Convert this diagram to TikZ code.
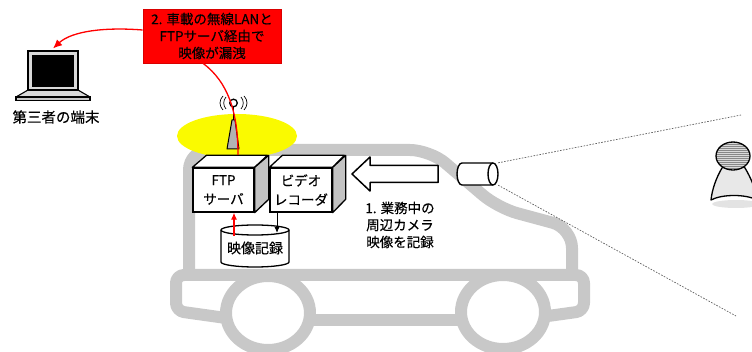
\documentclass[tikz,border=0pt]{standalone}
\usepackage{fontspec}
\setmainfont{Noto Sans CJK JP}[FakeBold=0.35]
\usetikzlibrary{arrows.meta,calc}
\definecolor{carline}{RGB}{200,200,200}
\definecolor{leakred}{RGB}{255,0,0}
\definecolor{sidegray}{RGB}{195,195,195}
\definecolor{halo}{RGB}{250,250,0}
\definecolor{headgray}{RGB}{135,135,135}
\definecolor{bodygray}{RGB}{232,232,232}

\begin{document}
\begin{tikzpicture}[x=1pt,y=-1pt,
  txt/.style={font=\fontsize{13.5}{17}\selectfont, align=center, inner sep=0pt},
  cubebox/.style={draw=black, line width=1.3pt, fill=white, minimum height=44pt,
    inner sep=0pt, font=\fontsize{13.5}{19}\selectfont, align=center},
  cubeface/.style={draw=black, line width=1.3pt, line join=round},
  carbody/.style={draw=carline, line width=12pt, line join=round, line cap=round},
  leakline/.style={draw=leakred, line width=1.3pt},
  redup/.style={draw=leakred, line width=1.2pt, -{Latex[length=7pt,width=6pt]}},
  blackdown/.style={draw=black, line width=0.9pt, -{Latex[length=6pt,width=5pt]}},
  sight/.style={draw=gray!75!black, line width=0.7pt, dash pattern=on 1.6pt off 1.4pt},
  outline/.style={draw=black, line width=1.4pt, line join=round}
]
\useasboundingbox (0,0) rectangle (752,352);
\clip (0,0) rectangle (752,352);

% ---------- vehicle silhouette ----------
\draw[carbody, rounded corners=20pt] (189,275) -- (189,150) -- (430,150)
  -- (498,208) -- (572,228) -- (572,275);
\draw[carbody, rounded corners=8pt] (226,318) -- (176,311) -- (176,275)
  -- (584,275) -- (584,311) -- (548,316);
\draw[carbody] (300,320) -- (470,320);
\draw[carbody, fill=white] (268,313) ellipse [x radius=42, y radius=37];
\draw[carbody, fill=white] (503,312) ellipse [x radius=42, y radius=37];

% ---------- wireless halo and antenna ----------
\fill[halo] (237,136) ellipse [x radius=60, y radius=22];
\draw[line width=1pt, fill=gray!60, line join=round]
  (227,149) -- (232,120) -- (235,120) -- (239,149) -- cycle;
\draw[line width=1.3pt] (233.5,120) -- (233.5,107);
\draw[line width=1.3pt, fill=white] (233.5,103) circle [radius=3.8];
\draw[line width=0.7pt] (226,97) .. controls (223,100) and (223,106) .. (226,109);
\draw[line width=0.7pt] (223,96) .. controls (219,100) and (219,106) .. (223,110);
\draw[line width=0.7pt] (241,97) .. controls (244,100) and (244,106) .. (241,109);
\draw[line width=0.7pt] (244,96) .. controls (248,100) and (248,106) .. (244,110);
\coordinate (antbase) at (238,155);

% ---------- FTP server and video recorder ----------
\node[cubebox, minimum width=61pt] (ftp) at (223.5,190) {FTP\\サーバ};
\draw[cubeface, fill=white] (ftp.north west) -- ++(14,-12) -- ++(61,0)
  -- (ftp.north east) -- cycle;
\draw[cubeface, fill=sidegray] (ftp.north east) -- ++(14,-12) -- ++(0,44)
  -- (ftp.south east) -- cycle;

\node[cubebox, minimum width=62pt] (rec) at (301,190) {ビデオ\\レコーダ};
\draw[cubeface, fill=white] (rec.north west) -- ++(13,-12) -- ++(62,0)
  -- (rec.north east) -- cycle;
\draw[cubeface, fill=sidegray] (rec.north east) -- ++(13,-12) -- ++(0,44)
  -- (rec.south east) -- cycle;

% ---------- recording storage ----------
\draw[outline, line width=1.3pt, fill=white] (221,230) -- (221,262)
  arc[start angle=180, end angle=0, x radius=34, y radius=5] -- (289,230)
  arc[start angle=0, end angle=-180, x radius=34, y radius=5] -- cycle;
\draw[line width=1.3pt] (221,230) arc[start angle=180, end angle=0, x radius=34, y radius=5];
\node[txt, font=\fontsize{14}{17}\selectfont, minimum width=68pt, minimum height=30pt] (db) at (255,248) {映像記録};

\coordinate (dbred) at (234,236);
\coordinate (dbblk) at (277,233);
\draw[redup] (dbred) -- (dbred |- ftp.south);
\draw[blackdown] (rec.south -| dbblk) -- (dbblk);

% ---------- camera and its field of view ----------
\node[minimum width=41pt, minimum height=22pt, inner sep=0pt] (cam) at (477.5,174) {};
\draw[outline, fill=white] (462,163) -- (493,163)
  arc[start angle=-90, end angle=90, x radius=5, y radius=11] -- (462,185)
  arc[start angle=90, end angle=270, x radius=5, y radius=11] -- cycle;
\draw[outline] (493,163) arc[start angle=-90, end angle=-270, x radius=5, y radius=11];
\coordinate (viewtop) at (741,115);
\coordinate (viewbot) at (736,316);
\draw[sight] (cam.north east) -- (viewtop);
\draw[sight] (cam.south east) -- (viewbot);

% ---------- recording arrow ----------
\draw[outline, line width=1.5pt, fill=white] (352,174) -- (370,157) -- (370,165.5)
  -- (438,165.5) -- (438,182.5) -- (370,182.5) -- (370,191) -- cycle;
\node[txt] (cap1) at (400,225) {1. 業務中の\\周辺カメラ\\映像を記録};

% ---------- passer-by ----------
\fill[gray!22] (736,204) ellipse [x radius=24, y radius=4];
\draw[outline, line width=1.3pt, fill=bodygray] (722,168)
  .. controls (716,178) and (712,190) .. (711,200)
  .. controls (722,194) and (746,194) .. (757,200)
  .. controls (756,190) and (751,178) .. (745,168)
  .. controls (739,162) and (728,162) .. (722,168) -- cycle;
\begin{scope}
  \clip (733,156) ellipse [x radius=17, y radius=14];
  \fill[headgray] (716,141) rectangle (751,171);
  \foreach \yy in {143,145,...,170} \draw[white!70!gray, line width=0.6pt] (716,\yy) -- (751,\yy);
\end{scope}
\draw[line width=1.3pt] (733,156) ellipse [x radius=17, y radius=14];

% ---------- third-party laptop ----------
\draw[line width=1.1pt, fill=gray!30, line join=round] (28,90) -- (78,90) -- (90,97) -- (16,97) -- cycle;
\draw[line width=1.1pt, fill=gray!45] (16,97) rectangle (90,100.5);
\node[draw=black, line width=1.1pt, fill=gray!30, minimum width=50pt, minimum height=39pt,
  inner sep=0pt] (lapscreen) at (53,70.5) {};
\fill[black] (32,55) rectangle (74,87);
\node[txt, font=\fontsize{14.5}{17}\selectfont] (third) at (56,117) {第三者の端末};

% ---------- leak label and paths ----------
\node[txt, fill=leakred, draw=leakred!85!black, line width=0.6pt,
  minimum width=138pt, minimum height=54pt] (leak) at (212,36)
  {2. 車載の無線LANと\\FTPサーバ経由で\\映像が漏洩};
\draw[leakline] (antbase) .. controls (238,112) and (228,82) .. ([xshift=-9pt]leak.south);
\draw[leakline, -{Latex[length=9pt,width=8pt]}] ([yshift=6pt]leak.west)
  .. controls (105,27) and (72,31) .. ([yshift=2pt]lapscreen.north);
\end{tikzpicture}
\end{document}
